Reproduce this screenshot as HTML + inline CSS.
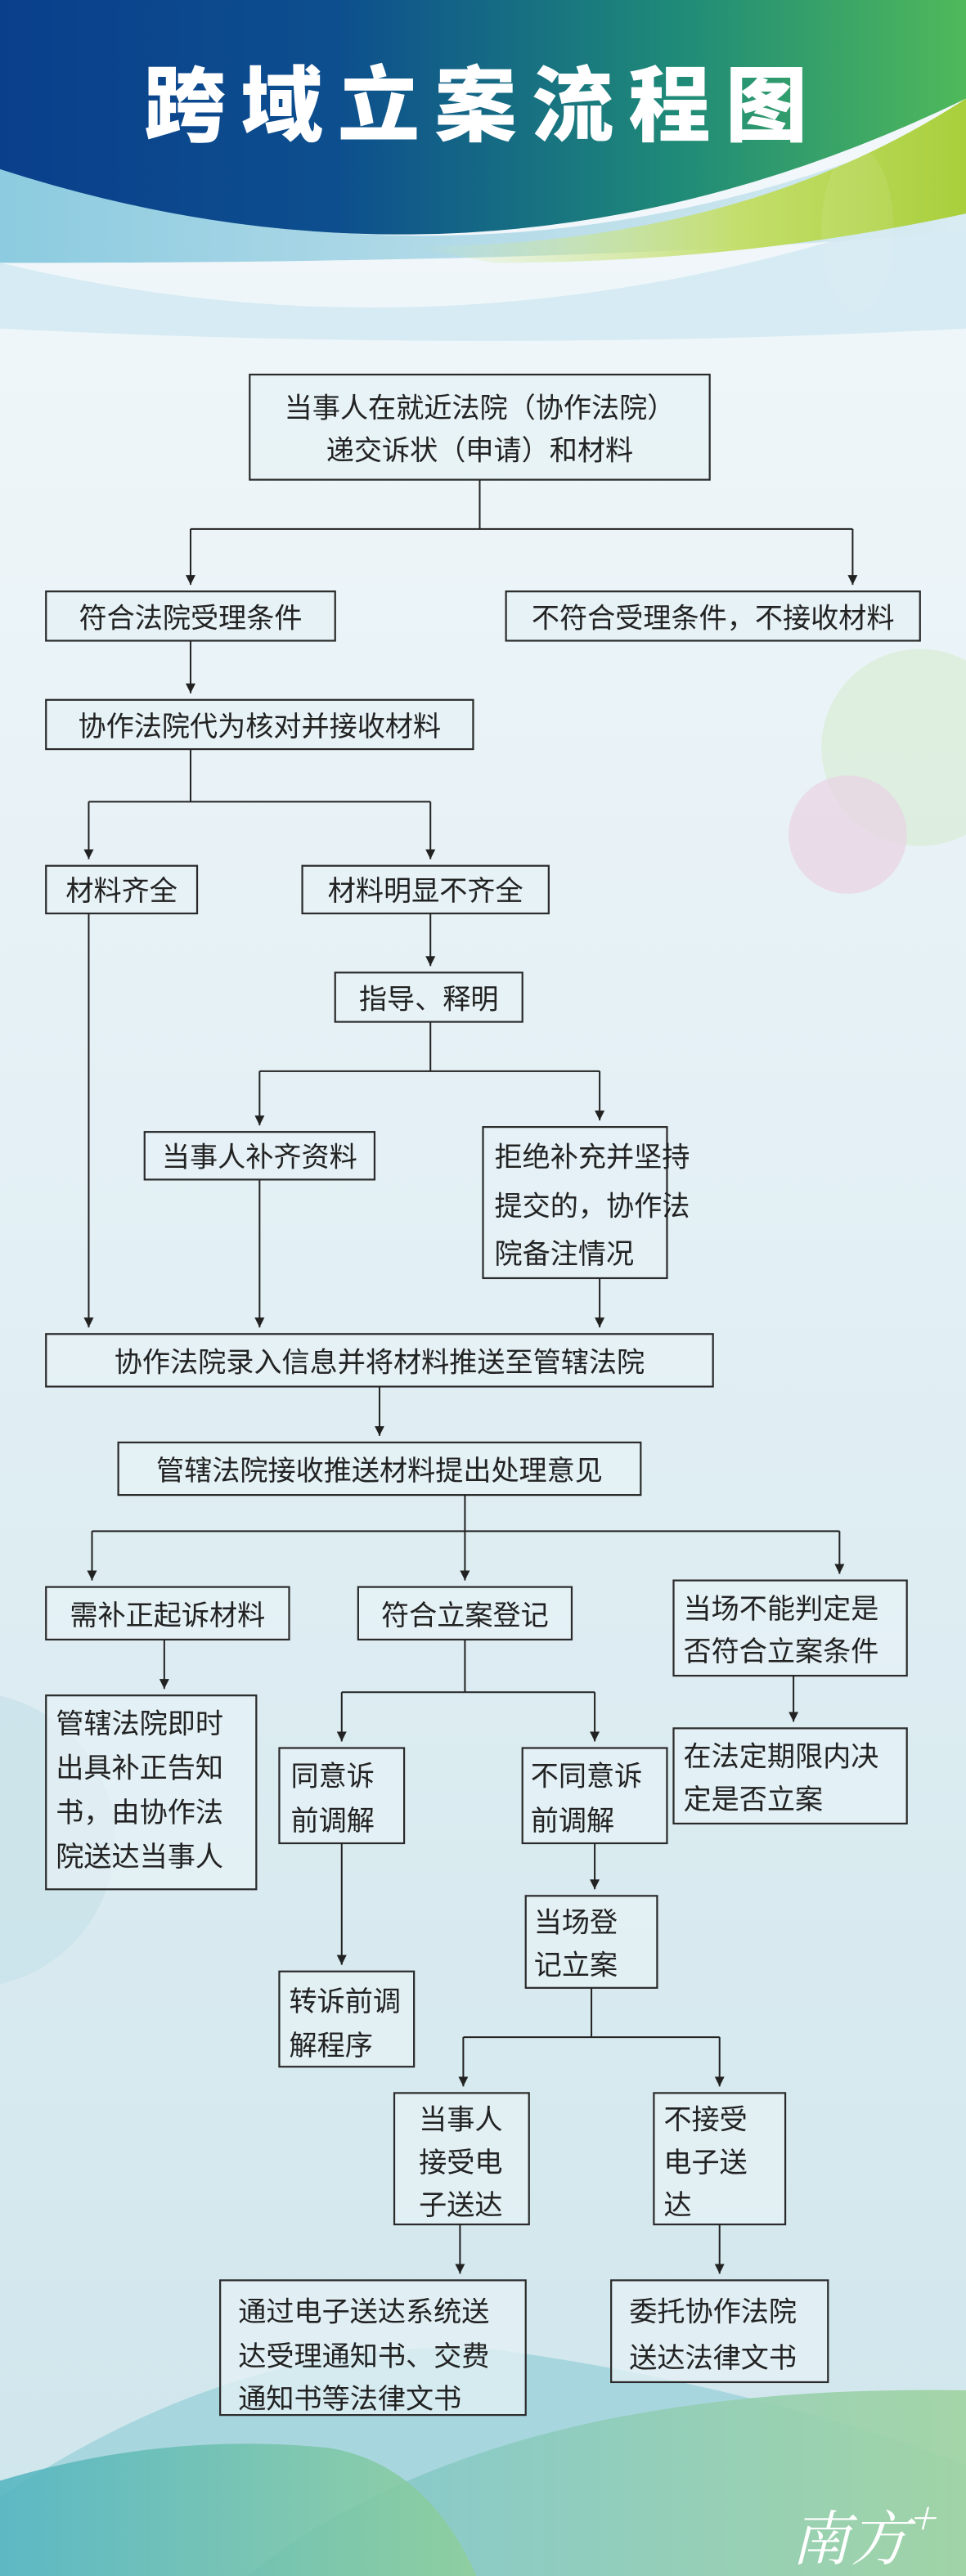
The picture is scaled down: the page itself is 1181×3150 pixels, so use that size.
<!DOCTYPE html>
<html><head><meta charset="utf-8"><style>
html,body{margin:0;padding:0;width:1181px;height:3150px;overflow:hidden}
svg{display:block}
text{font-family:"Liberation Sans","Noto Sans CJK SC",sans-serif;fill:#222}
</style></head><body>
<svg width="1181" height="3150" viewBox="0 0 588 1568" preserveAspectRatio="none" xmlns="http://www.w3.org/2000/svg">
<defs>
<linearGradient id="bg" x1="0" y1="0" x2="0" y2="1">
<stop offset="0" stop-color="#f3f8fb"/><stop offset="0.5" stop-color="#e2eff4"/><stop offset="1" stop-color="#cfe6ec"/></linearGradient>
<linearGradient id="hd" x1="0" y1="0" x2="1" y2="0">
<stop offset="0" stop-color="#0a3f8c"/><stop offset="0.35" stop-color="#0d4f8e"/><stop offset="0.7" stop-color="#1f8a78"/><stop offset="1" stop-color="#4fb95a"/></linearGradient>
<linearGradient id="lb" x1="0" y1="0" x2="1" y2="0">
<stop offset="0" stop-color="#8ccbe0"/><stop offset="0.5" stop-color="#b4dbe8"/><stop offset="1" stop-color="#d9ecf2"/></linearGradient>
<linearGradient id="yg" x1="0" y1="0" x2="1" y2="0">
<stop offset="0" stop-color="#d6eaa0" stop-opacity="0"/><stop offset="0.6" stop-color="#c3de6a"/><stop offset="1" stop-color="#a9cf3c"/></linearGradient>
<linearGradient id="w1" x1="0" y1="0" x2="1" y2="0">
<stop offset="0" stop-color="#7fc6d2"/><stop offset="1" stop-color="#9fd3a0"/></linearGradient>
<linearGradient id="w2" x1="0" y1="0" x2="1" y2="0">
<stop offset="0" stop-color="#4fb3c0"/><stop offset="1" stop-color="#8fcf9a"/></linearGradient>
<marker id="ar" viewBox="0 0 10 10" refX="10" refY="5" markerWidth="6" markerHeight="6" orient="auto"><path d="M0,0 L10,5 L0,10 Z" fill="#222"/></marker>
</defs>
<rect width="588" height="1568" fill="url(#bg)"/>
<!-- header -->
<path d="M0,160 Q290,230 588,120 L588,200 Q300,215 0,200 Z" fill="#d6ebf3"/>
<path d="M0,100 Q300,200 588,70 L588,140 Q400,160 0,160 Z" fill="url(#lb)"/>
<path d="M250,150 Q450,150 588,60 L588,130 Q450,160 300,160 Z" fill="url(#yg)"/>
<path d="M0,0 L588,0 L588,60 Q300,200 0,103 Z" fill="url(#hd)"/>
<ellipse cx="522" cy="140" rx="22" ry="50" fill="#ffffff" opacity="0.08"/>
<text x="294" y="82" text-anchor="middle" font-size="50" font-weight="900" letter-spacing="9" style="fill:#fff;font-family:'Noto Sans CJK SC',sans-serif">跨域立案流程图</text>
<!-- deco circles -->
<circle cx="560" cy="455" r="60" fill="#d8ecd6" opacity="0.7"/>
<circle cx="516" cy="508" r="36" fill="#ead3e3" opacity="0.7"/>
<circle cx="-20" cy="1120" r="90" fill="#c4e0e8" opacity="0.6"/>
<!-- bottom waves -->
<path d="M0,1568 L0,1520 Q150,1420 300,1430 Q450,1450 588,1500 L588,1568 Z" fill="#a8d6de"/>
<path d="M150,1568 Q300,1450 588,1455 L588,1568 Z" fill="url(#w1)" opacity="0.9"/>
<path d="M0,1568 L0,1510 Q100,1480 200,1490 Q260,1500 290,1568 Z" fill="url(#w2)" opacity="0.85"/>
<text x="525" y="1558" text-anchor="middle" font-size="36" font-style="italic" style="fill:#fff;font-family:'Noto Serif CJK SC',serif">南方<tspan font-size="26" dy="-16">+</tspan></text>

<g fill="#e6f1f5" fill-opacity="0.75" stroke="#2a2a2a" stroke-width="1.1">
<rect x="152" y="228" width="280" height="64"/>
<rect x="28" y="360" width="176" height="30"/>
<rect x="308" y="360" width="252" height="30"/>
<rect x="28" y="426" width="260" height="30"/>
<rect x="28" y="527" width="92" height="29"/>
<rect x="184" y="527" width="150" height="29"/>
<rect x="204" y="592" width="114" height="30"/>
<rect x="88" y="689" width="140" height="29"/>
<rect x="294" y="686" width="112" height="92"/>
<rect x="28" y="812" width="406" height="32"/>
<rect x="72" y="878" width="318" height="32"/>
<rect x="28" y="966" width="148" height="32"/>
<rect x="218" y="966" width="130" height="32"/>
<rect x="410" y="962" width="142" height="58"/>
<rect x="28" y="1032" width="128" height="118"/>
<rect x="410" y="1052" width="142" height="58"/>
<rect x="170" y="1064" width="76" height="58"/>
<rect x="318" y="1064" width="88" height="58"/>
<rect x="170" y="1200" width="82" height="58"/>
<rect x="320" y="1154" width="80" height="56"/>
<rect x="240" y="1274" width="82" height="80"/>
<rect x="398" y="1274" width="80" height="80"/>
<rect x="134" y="1388" width="186" height="82"/>
<rect x="372" y="1388" width="132" height="62"/>
</g>

<g stroke="#222" stroke-width="1" fill="none">
<path d="M292,292 V322 M116,322 H519"/>
<path d="M116,322 V356" marker-end="url(#ar)"/><path d="M519,322 V356" marker-end="url(#ar)"/>
<path d="M116,390 V422" marker-end="url(#ar)"/>
<path d="M116,456 V488 M54,488 H262"/>
<path d="M54,488 V523" marker-end="url(#ar)"/><path d="M262,488 V523" marker-end="url(#ar)"/>
<path d="M262,556 V588" marker-end="url(#ar)"/>
<path d="M262,622 V652 M158,652 H365"/>
<path d="M158,652 V685" marker-end="url(#ar)"/><path d="M365,652 V682" marker-end="url(#ar)"/>
<path d="M54,556 V808" marker-end="url(#ar)"/>
<path d="M158,718 V808" marker-end="url(#ar)"/>
<path d="M365,778 V808" marker-end="url(#ar)"/>
<path d="M231,844 V874" marker-end="url(#ar)"/>
<path d="M283,910 V932 M56,932 H511"/>
<path d="M56,932 V962" marker-end="url(#ar)"/><path d="M283,932 V962" marker-end="url(#ar)"/><path d="M511,932 V958" marker-end="url(#ar)"/>
<path d="M100,998 V1028" marker-end="url(#ar)"/>
<path d="M483,1020 V1048" marker-end="url(#ar)"/>
<path d="M283,998 V1030 M208,1030 H362"/>
<path d="M208,1030 V1060" marker-end="url(#ar)"/><path d="M362,1030 V1060" marker-end="url(#ar)"/>
<path d="M208,1122 V1196" marker-end="url(#ar)"/>
<path d="M362,1122 V1150" marker-end="url(#ar)"/>
<path d="M360,1210 V1240 M282,1240 H438"/>
<path d="M282,1240 V1270" marker-end="url(#ar)"/><path d="M438,1240 V1270" marker-end="url(#ar)"/>
<path d="M280,1354 V1384" marker-end="url(#ar)"/>
<path d="M438,1354 V1384" marker-end="url(#ar)"/>
</g>

<g font-size="17">
<text x="292" y="254" text-anchor="middle">当事人在就近法院（协作法院）</text>
<text x="292" y="280" text-anchor="middle">递交诉状（申请）和材料</text>
<text x="116" y="382" text-anchor="middle">符合法院受理条件</text>
<text x="434" y="382" text-anchor="middle">不符合受理条件，不接收材料</text>
<text x="158" y="448" text-anchor="middle">协作法院代为核对并接收材料</text>
<text x="74" y="548" text-anchor="middle">材料齐全</text>
<text x="259" y="548" text-anchor="middle">材料明显不齐全</text>
<text x="261" y="614" text-anchor="middle">指导、释明</text>
<text x="158" y="710" text-anchor="middle">当事人补齐资料</text>
<text x="301" y="710">拒绝补充并坚持</text>
<text x="301" y="740">提交的，协作法</text>
<text x="301" y="769">院备注情况</text>
<text x="231" y="835" text-anchor="middle">协作法院录入信息并将材料推送至管辖法院</text>
<text x="231" y="901" text-anchor="middle">管辖法院接收推送材料提出处理意见</text>
<text x="102" y="989" text-anchor="middle">需补正起诉材料</text>
<text x="283" y="989" text-anchor="middle">符合立案登记</text>
<text x="416" y="985">当场不能判定是</text>
<text x="416" y="1011">否符合立案条件</text>
<text x="34" y="1055">管辖法院即时</text>
<text x="34" y="1082">出具补正告知</text>
<text x="34" y="1109">书，由协作法</text>
<text x="34" y="1136">院送达当事人</text>
<text x="416" y="1075">在法定期限内决</text>
<text x="416" y="1101">定是否立案</text>
<text x="177" y="1087">同意诉</text>
<text x="177" y="1114">前调解</text>
<text x="323" y="1087">不同意诉</text>
<text x="323" y="1114">前调解</text>
<text x="325" y="1176">当场登</text>
<text x="325" y="1202">记立案</text>
<text x="176" y="1224">转诉前调</text>
<text x="176" y="1251">解程序</text>
<text x="255" y="1296">当事人</text>
<text x="255" y="1322">接受电</text>
<text x="255" y="1348">子送达</text>
<text x="404" y="1296">不接受</text>
<text x="404" y="1322">电子送</text>
<text x="404" y="1348">达</text>
<text x="145" y="1413">通过电子送达系统送</text>
<text x="145" y="1440">达受理通知书、交费</text>
<text x="145" y="1466">通知书等法律文书</text>
<text x="383" y="1413">委托协作法院</text>
<text x="383" y="1441">送达法律文书</text>
</g>
</svg>
</body></html>
